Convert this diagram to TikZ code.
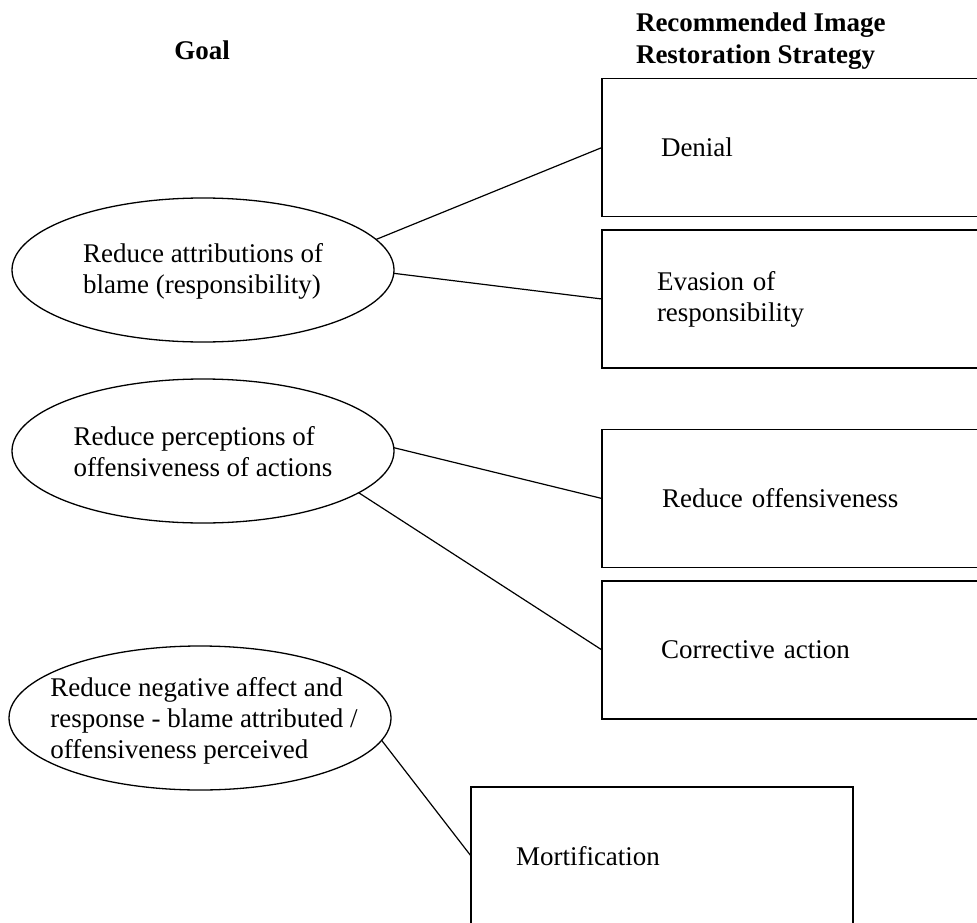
\documentclass[tikz,border=0pt]{standalone}
\usepackage{fontspec}
\setmainfont{Liberation Serif}
\usetikzlibrary{shapes.geometric}
\begin{document}
\begin{tikzpicture}[x=1pt,y=-1pt,
  every node/.style={font=\fontsize{27}{31}\selectfont, outer sep=0pt},
  goal/.style={draw, ellipse, line width=1.3pt, minimum width=382pt, minimum height=144pt, inner sep=0pt},
  goaltext/.style={align=left, inner sep=0pt},
  strat/.style={draw, rectangle, line width=1.8pt, minimum height=138pt, inner ysep=0pt, align=left},
  link/.style={line width=1.2pt},
  head/.style={font=\fontsize{27}{32}\selectfont\bfseries, align=left, inner sep=0pt}]
\useasboundingbox (0,0) rectangle (977,923);
\clip (0,0) rectangle (977,923);
\fill[white] (0,0) rectangle (977,923);

% headers
\node[head] (hgoal) at (202,50) {Goal};
\node[head, anchor=west] (hstrat) at (636,41) {Recommended Image\\Restoration Strategy};

% goals
\node[goal] (e1) at (203,270) {};
\node[goaltext] (t1) at (203,271) {Reduce attributions of\\blame (responsibility)};
\node[goal] (e2) at (203,451) {};
\node[goaltext] (t2) at (203,452) {Reduce perceptions of\\offensiveness of actions};
\node[goal] (e3) at (200,718) {};
\node[goaltext] (t3) at (204,721) {Reduce negative affect and\\response - blame attributed /\\offensiveness perceived};

% strategies
\node[strat, text width=270pt, inner xsep=59pt] (denial) at (796,147.5) {Denial};
\node[strat, text width=278pt, inner xsep=55pt] (evasion) at (796,299) {Evasion of\\responsibility};
\node[strat, text width=268pt, inner xsep=60pt] (reduce) at (796,498.5) {Reduce offensiveness};
\node[strat, text width=270pt, inner xsep=59pt] (corrective) at (796,650) {Corrective action};
\node[strat, text width=292pt, inner xsep=45pt] (mort) at (662,856) {Mortification};

% connectors
\draw[link] (e1.10.5) -- (denial.west);
\draw[link] (e1.-1) -- (evasion.west);
\draw[link] (e2.1) -- (reduce.west);
\draw[link] (e2.-15) -- (corrective.west);
\draw[link] (e3.-7.5) -- (mort.west);
\end{tikzpicture}
\end{document}
